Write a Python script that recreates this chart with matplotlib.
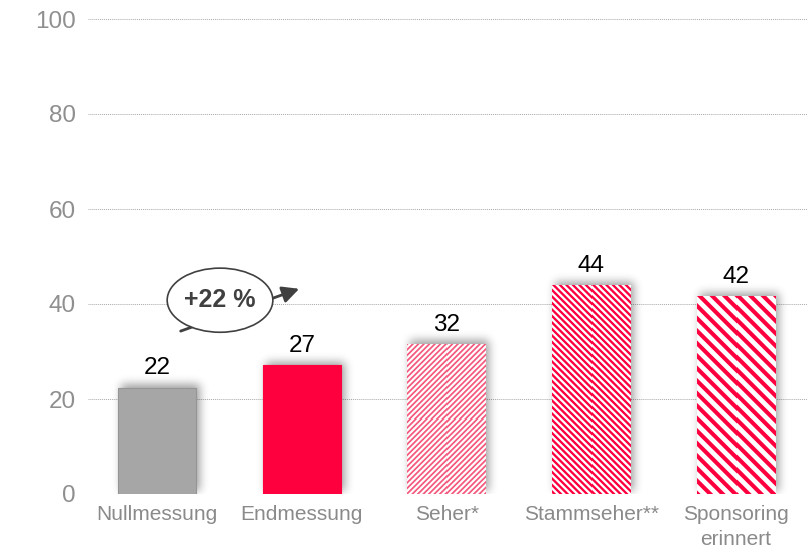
import numpy as np
import matplotlib
matplotlib.use('Agg')
import matplotlib.pyplot as plt
from matplotlib.patches import Ellipse

plt.rcParams['font.family'] = ['Liberation Sans', 'DejaVu Sans']

# daten
labels = ['Nullmessung', 'Endmessung', 'Seher*', 'Stammseher**', 'Sponsoring\nerinnert']
values = [22.4, 27.1, 31.6, 44.0, 41.6]
value_text = ['22', '27', '32', '44', '42']
growth_label = '+22 %'
yticks = [0, 20, 40, 60, 80, 100]

# stil pro balken: (farbe, muster, periode px, anteil)
styles = [
    ('#a6a6a6', None, 0, 0),
    ('#ff003f', None, 0, 0),
    ('#f45a7e', '/', 5.5, 0.45),
    ('#ff003f', '\\', 6.5, 0.5),
    ('#ff003f', '\\', 12.5, 0.45),
]

W, H = 807, 556
fig = plt.figure(figsize=(W / 100, H / 100), dpi=100)
ax = fig.add_axes([88 / W, 1 - 494 / H, 1 - 88 / W, (494 - 19) / H])

x = np.arange(len(values))
xlim = (-0.477, 4.49)
ax.set_xlim(*xlim)
ax.set_ylim(0, 100)

bars = ax.bar(x, values, width=0.54, zorder=3, linewidth=0.8)
for b, (c, pat, per, frac) in zip(bars, styles):
    if pat is None:
        b.set_facecolor(c)
        b.set_edgecolor('#959595' if c == '#a6a6a6' else c)
    else:
        b.set_facecolor('white')
        b.set_edgecolor('none')


def to_data(px, py):
    return ax.transData.inverted().transform((px, py))


# schatten und streifen
for b, (c, pat, per, frac) in zip(bars, styles):
    bb = b.get_window_extent()
    w = int(round(bb.width))
    h = int(round(bb.height))
    pad = 18
    dx, dy = 3, 3
    mask = np.zeros((h + 2 * pad, w + 2 * pad))
    mask[pad - dy:pad - dy + h, pad + dx:pad + dx + w] = 1.0
    k = np.exp(-0.5 * (np.arange(-12, 13) / 4.5) ** 2)
    k /= k.sum()
    mask = np.apply_along_axis(lambda r: np.convolve(r, k, mode='same'), 1, mask)
    mask = np.apply_along_axis(lambda r: np.convolve(r, k, mode='same'), 0, mask)
    sh = np.zeros(mask.shape + (4,))
    sh[..., 3] = mask * 0.38
    x0, y0 = to_data(bb.x0 - pad, bb.y0 - pad)
    x1, y1 = to_data(bb.x1 + pad, bb.y1 + pad)
    ax.imshow(sh, extent=(x0, x1, y0, y1), aspect='auto', zorder=2,
              interpolation='bilinear')

    if pat is not None:
        ii, jj = np.mgrid[0:h * 4, 0:w * 4] / 4.0
        t = (jj - ii) if pat == '\\' else (jj + ii)
        ph = np.mod(t, per) / per
        on = (ph < frac).astype(float)
        on = on.reshape(h, 4, w, 4).mean(axis=(1, 3))
        rgb = np.array(matplotlib.colors.to_rgb(c))
        img = np.ones((h, w, 3)) * (1 - on[..., None]) + rgb * on[..., None]
        bx0, by0 = to_data(bb.x0, bb.y0)
        bx1, by1 = to_data(bb.x1, bb.y1)
        im = ax.imshow(img, extent=(bx0, bx1, by0, by1), aspect='auto',
                       zorder=4, interpolation='nearest')
        im.set_clip_path(b)

ax.set_xlim(*xlim)
ax.set_ylim(0, 100)

# werte
for xi, v, t in zip(x, values, value_text):
    ax.annotate(t, (xi, v), xytext=(0, 9.5), textcoords='offset points',
                ha='center', va='baseline', fontsize=17.5, color='black')

# achsen
ax.set_yticks(yticks)
ax.set_xticks(x)
ax.set_xticklabels(labels, fontsize=15, color='#8a8a8a', linespacing=1.4)
ax.tick_params(axis='y', length=0, pad=9, labelsize=17.5, labelcolor='#8f8f8f')
ax.tick_params(axis='x', length=0, pad=8)
ax.yaxis.grid(True, linestyle=(0, (1, 1)), color='#a8a8a8', linewidth=0.7)
ax.set_axisbelow(True)
for s in ax.spines.values():
    s.set_visible(False)

# pfeil mit ellipse
ax.annotate('', xy=(1.0, values[1] + 16.3), xytext=(0.145, values[1] + 7.0),
            arrowprops=dict(arrowstyle='-|>,head_length=1.0,head_width=0.5',
                            color='#404040', lw=2), zorder=6)
ell = Ellipse((0.435, values[1] + 13.7), 0.73, 13.5, facecolor='white',
              edgecolor='#404040', linewidth=1.2, zorder=7)
ax.add_patch(ell)
ax.text(0.435, values[1] + 13.7, growth_label, ha='center', va='center',
        fontsize=18, fontweight='bold', color='#404040', zorder=8)

fig.savefig('out.png', dpi=100)
